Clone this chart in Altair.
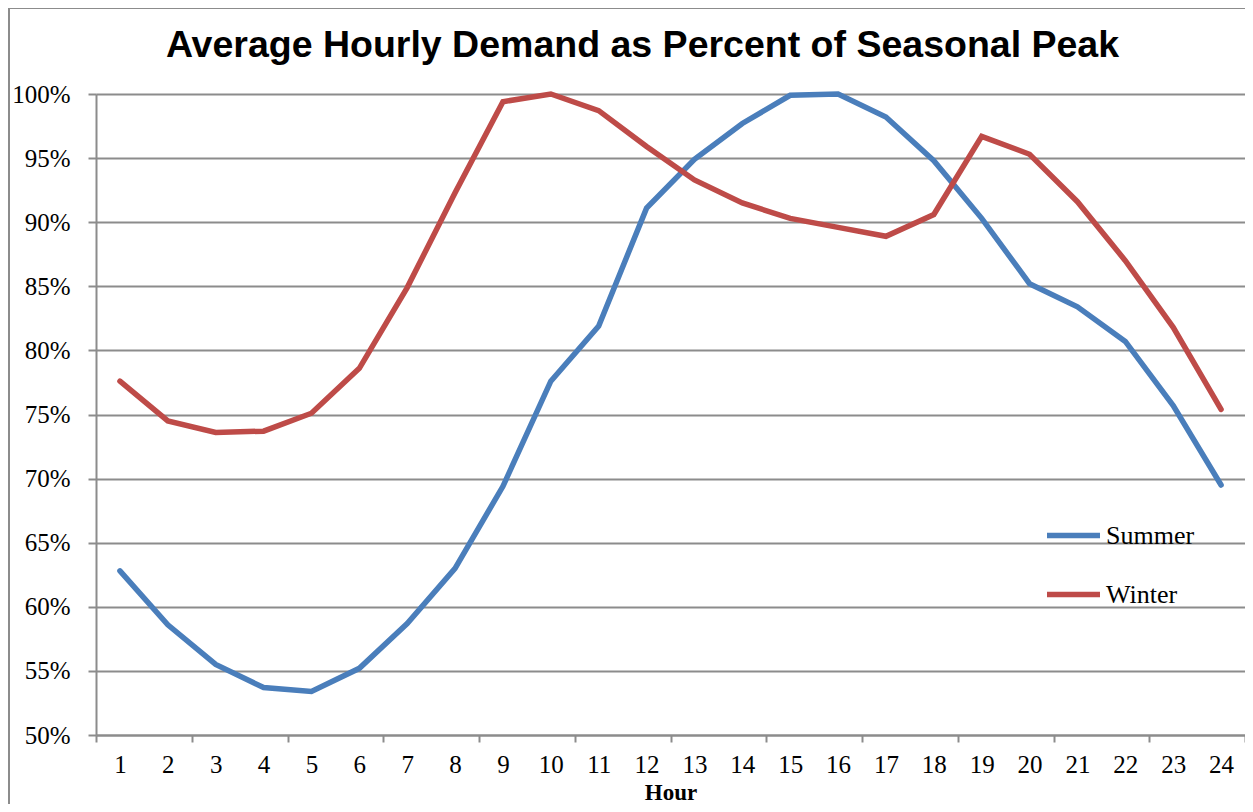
import altair as alt
import pandas as pd

hours = list(range(1, 25))
summer = [62.8, 58.6, 55.5, 53.7, 53.4, 55.2, 58.7, 63.0, 69.4, 77.6, 81.9, 91.1,
          94.9, 97.7, 99.9, 100.0, 98.2, 94.8, 90.3, 85.2, 83.4, 80.7, 75.7, 69.5]
winter = [77.6, 74.5, 73.6, 73.7, 75.1, 78.6, 84.9, 92.3, 99.4, 100.0, 98.7, 95.9,
          93.3, 91.5, 90.3, 89.6, 88.9, 90.6, 96.7, 95.3, 91.6, 87.0, 81.8, 75.4]
series = ["Summer", "Winter"]
colors = ["#4A7EBB", "#BE4B48"]
y_ticks = [0.50, 0.55, 0.60, 0.65, 0.70, 0.75, 0.80, 0.85, 0.90, 0.95, 1.00]
x_values = [h / 2 for h in range(1, 50)]  # 0.5 .. 24.5

rows = []
for h, s, w in zip(hours, summer, winter):
    rows.append({"hour": h, "season": "Summer", "value": s / 100})
    rows.append({"hour": h, "season": "Winter", "value": w / 100})
df = pd.DataFrame(rows)

W, H = 1149, 641
GRAY = "#8C8C8C"
SERIF = "Liberation Serif"

x_axis = alt.Axis(
    values=x_values,
    labelExpr="datum.value % 1 === 0 ? format(datum.value, 'd') : ''",
    labelOverlap=False, labelBound=False, labelFlush=False,
    labelFont=SERIF, labelFontSize=25, labelColor="black",
    labelPadding=10, labelBaseline="top",
    tickOpacity={"condition": {"test": "(datum.value - 0.5) % 2 === 0", "value": 1}, "value": 0},
    tickSize=7, tickWidth=2, tickColor=GRAY,
    domainColor=GRAY, domainWidth=2, grid=False,
    title="Hour", titleFont=SERIF, titleFontSize=23, titleFontWeight="bold",
    titleColor="black", titleBaseline="alphabetic", titleY=64,
)
y_axis = alt.Axis(
    values=y_ticks, format=".0%",
    labelFont=SERIF, labelFontSize=25, labelColor="black", labelPadding=18,
    labelBaseline="middle",
    tickSize=8, tickWidth=2, tickColor=GRAY,
    domainColor=GRAY, domainWidth=2,
    grid=True, gridColor=GRAY, gridWidth=2,
    title=None,
)

lines = alt.Chart(df).mark_line(strokeWidth=5.5, strokeCap="round").encode(
    x=alt.X("hour:Q", scale=alt.Scale(domain=[0.5, 24.5], nice=False, zero=False), axis=x_axis),
    y=alt.Y("value:Q", scale=alt.Scale(domain=[0.5, 1.0], nice=False, zero=False), axis=y_axis),
    color=alt.Color("season:N", scale=alt.Scale(domain=series, range=colors),
                    legend=alt.Legend(orient="none", legendX=948, legendY=412, title=None,
                                      symbolType="stroke", symbolSize=2809, symbolStrokeWidth=5.5,
                                      labelFont=SERIF, labelFontSize=26, labelColor="black",
                                      labelOffset=3, rowPadding=16, padding=0)),
    order="hour:Q",
)

frame_left = alt.Chart(df).mark_rule(color=GRAY, strokeWidth=2).encode(
    x=alt.value(-87), y=alt.value(-86), y2=alt.value(H + 69))
frame_top = alt.Chart(df).mark_rule(color=GRAY, strokeWidth=2).encode(
    x=alt.value(-87), x2=alt.value(W), y=alt.value(-86))

chart = alt.layer(frame_left, frame_top, lines).properties(
    width=W, height=H,
    title=alt.Title("Average Hourly Demand as Percent of Seasonal Peak",
                    font="Liberation Sans", fontSize=37.5, fontWeight="bold", color="black",
                    anchor="middle", dx=-28, offset=-87, baseline="alphabetic"),
    autosize=alt.AutoSizeParams(type="none"),
    padding={"left": 88, "top": 86, "right": 0, "bottom": 69},
).configure_view(stroke=None).configure(background="white")

chart.save("out.html", embed_options={"renderer": "svg", "actions": False})
